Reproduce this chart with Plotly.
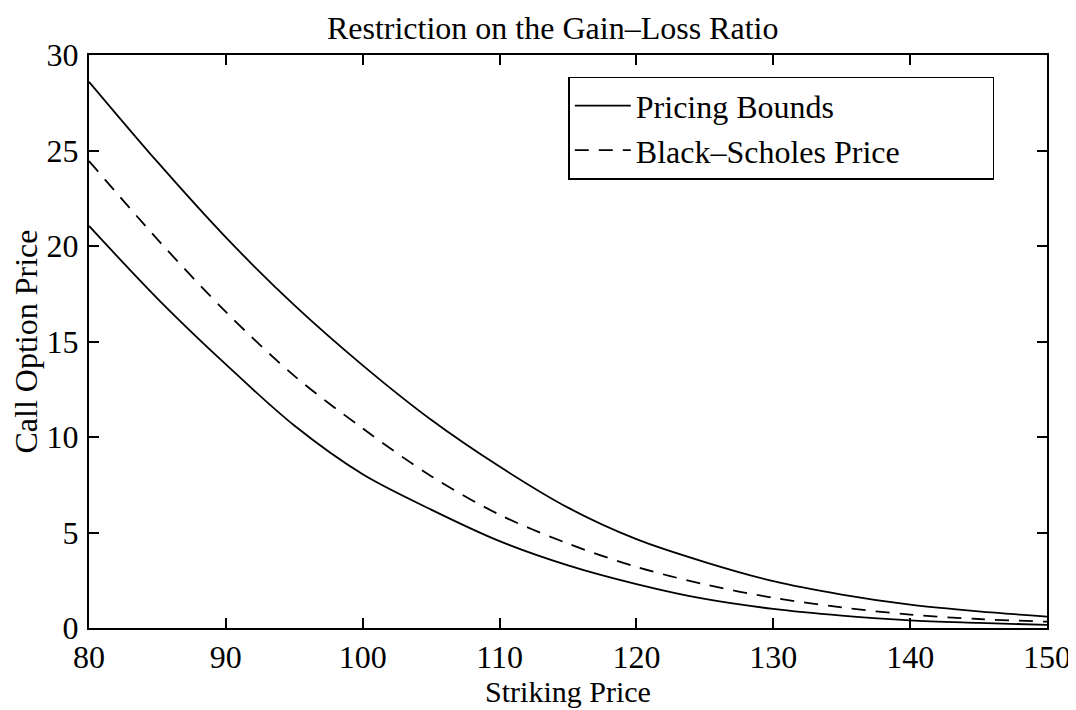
import plotly.graph_objects as go

strike = [80, 85, 90, 95, 100, 105, 110, 115, 120, 125, 130, 135, 140, 145, 150]
upper_bound = [28.6, 24.4, 20.45, 16.9, 13.75, 10.9, 8.45, 6.3, 4.65, 3.45, 2.45, 1.75, 1.22, 0.87, 0.6]
bs_price = [24.45, 20.35, 16.55, 13.2, 10.45, 7.95, 5.93, 4.42, 3.2, 2.28, 1.58, 1.08, 0.7, 0.47, 0.33]
lower_bound = [21.05, 17.25, 13.8, 10.6, 8.05, 6.2, 4.55, 3.28, 2.3, 1.52, 1.0, 0.65, 0.4, 0.27, 0.16]

x_ticks = [80, 90, 100, 110, 120, 130, 140, 150]
y_ticks = [0, 5, 10, 15, 20, 25, 30]

FONT = "Liberation Serif, Times New Roman, serif"

line_style = dict(color="black", width=1.8, shape="spline", smoothing=0.9)

fig = go.Figure()
fig.add_trace(go.Scatter(x=strike, y=upper_bound, mode="lines", name="Pricing Bounds",
                         legendgroup="b", line=line_style))
fig.add_trace(go.Scatter(x=strike, y=bs_price, mode="lines",
                         name="Black\u2013Scholes Price" + "\u00a0" * 11,
                         line=dict(line_style, dash="14px,10px")))
fig.add_trace(go.Scatter(x=strike, y=lower_bound, mode="lines", name="Pricing Bounds",
                         legendgroup="b", showlegend=False, line=line_style))

axis_common = dict(showgrid=False, zeroline=False, showline=True, linecolor="black", linewidth=2,
                   mirror="ticks", ticks="inside", ticklen=10, tickwidth=1.5, tickcolor="black",
                   automargin=False,
                   tickfont=dict(family=FONT, size=32, color="black"))

# The page body adds an 8px offset, so the figure is 8px smaller and margins compensate.
fig.update_layout(
    width=1068, height=702,
    paper_bgcolor="white", plot_bgcolor="white",
    margin=dict(l=81, r=29, t=47, b=82),
    title=dict(text="Restriction on the Gain\u2013Loss Ratio", x=0.51, xanchor="center",
               y=0.988, yanchor="top", font=dict(family=FONT, size=32, color="black")),
    xaxis=dict(range=[80, 150], tickvals=x_ticks, ticklabelstandoff=0,
               title=dict(text="Striking Price", font=dict(family=FONT, size=30, color="black"), standoff=0),
               **axis_common),
    yaxis=dict(range=[0, 30], tickvals=y_ticks, ticklabelstandoff=2,
               title=dict(text="Call Option Price", font=dict(family=FONT, size=32, color="black"), standoff=0),
               **axis_common),
    legend=dict(x=0.945, y=0.962, xanchor="right", yanchor="top",
                bgcolor="white", bordercolor="black", borderwidth=1.5,
                font=dict(family=FONT, size=32, color="black"),
                itemwidth=56, tracegroupgap=0),
    showlegend=True,
)

fig.write_html("out.html")
